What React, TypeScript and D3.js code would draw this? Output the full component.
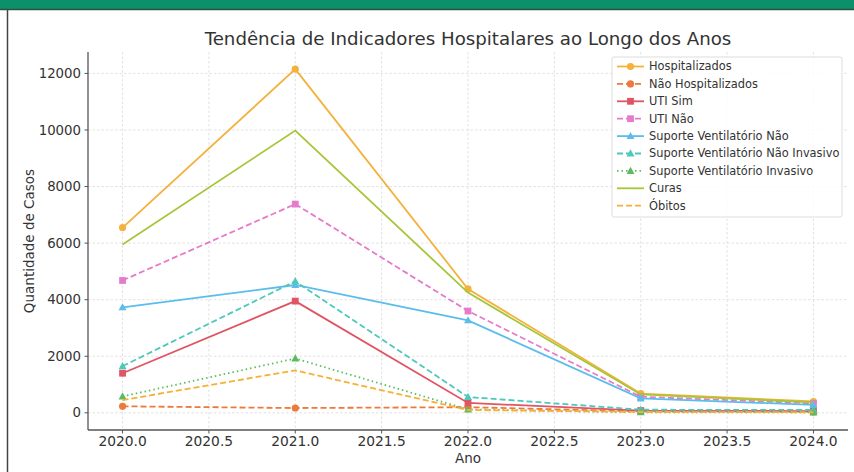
import React from 'react'
import * as d3 from 'd3'

// dados
const years = [2020, 2021, 2022, 2023, 2024]
const hospitalizados = [6550, 12150, 4380, 680, 400]
const naoHospitalizados = [230, 170, 200, 50, 30]
const utiSim = [1400, 3950, 350, 80, 60]
const utiNao = [4680, 7380, 3600, 570, 330]
const svNao = [3730, 4520, 3270, 510, 280]
const svNaoInvasivo = [1650, 4650, 560, 110, 100]
const svInvasivo = [580, 1920, 120, 20, 15]
const curas = [5950, 9980, 4250, 650, 370]
const obitos = [450, 1500, 100, 30, 20]

const xTicks = [2020, 2020.5, 2021, 2021.5, 2022, 2022.5, 2023, 2023.5, 2024]
const yTicks = [0, 2000, 4000, 6000, 8000, 10000, 12000]

const series = [
  { name: 'Hospitalizados', values: hospitalizados, color: '#f4b13b', dash: '', marker: 'o' },
  { name: 'Não Hospitalizados', values: naoHospitalizados, color: '#ec7a3c', dash: '6,3', marker: 'o' },
  { name: 'UTI Sim', values: utiSim, color: '#e05563', dash: '', marker: 's' },
  { name: 'UTI Não', values: utiNao, color: '#e67acb', dash: '6,3', marker: 's' },
  { name: 'Suporte Ventilatório Não', values: svNao, color: '#5bbdec', dash: '', marker: '^' },
  { name: 'Suporte Ventilatório Não Invasivo', values: svNaoInvasivo, color: '#4ec8bb', dash: '6,3', marker: '^' },
  { name: 'Suporte Ventilatório Invasivo', values: svInvasivo, color: '#5dbb5f', dash: '1.5,3', marker: '^' },
  { name: 'Curas', values: curas, color: '#a6c63a', dash: '', marker: '' },
  { name: 'Óbitos', values: obitos, color: '#f7b035', dash: '6,3', marker: '' }
]

const Marker = ({ type, x, y, color }) => {
  if (type === 'o') return <circle cx={x} cy={y} r={3.6} fill={color} />
  if (type === 's') return <rect x={x - 3.4} y={y - 3.4} width={6.8} height={6.8} fill={color} />
  if (type === '^')
    return <path d={`M${x},${y - 4.2}L${x + 4},${y + 3}L${x - 4},${y + 3}Z`} fill={color} />
  return null
}

const App = () => {
  const W = 854
  const H = 472
  const left = 88
  const right = 848
  const top = 52
  const bottom = 430
  const font = 'DejaVu Sans, sans-serif'

  const x = d3.scaleLinear().domain([2019.8, 2024.2]).range([left, right])
  const y = d3.scaleLinear().domain([-607, 12757]).range([bottom, top])

  const line = d3
    .line<number>()
    .x((d, i) => x(years[i]))
    .y((d) => y(d))

  const legX = 612
  const legY = 57
  const rowH = 17.4

  return (
    <div style={{ position: 'fixed', left: 0, top: 0 }}>
      <svg width={W} height={H} style={{ display: 'block', background: '#fff' }}>
        {/* moldura */}
        <rect x={0} y={0} width={W} height={9} fill="#0b906a" />
        <line x1={0} y1={9.5} x2={W} y2={9.5} stroke="#2f4f45" strokeWidth={1.5} />
        <line x1={7.5} y1={10} x2={7.5} y2={H} stroke="#444" strokeWidth={1.5} />

        {/* grade */}
        <g stroke="#dadada" strokeWidth={0.8} strokeDasharray="2.5,2">
          {xTicks.map((t) => (
            <line key={'gx' + t} x1={x(t)} x2={x(t)} y1={top} y2={bottom} />
          ))}
          {yTicks.map((t) => (
            <line key={'gy' + t} x1={left} x2={right} y1={y(t)} y2={y(t)} />
          ))}
        </g>

        {/* séries */}
        {series.map((s) => (
          <g key={s.name}>
            <path
              d={line(s.values)}
              fill="none"
              stroke={s.color}
              strokeWidth={1.8}
              strokeDasharray={s.dash}
            />
            {s.values.map((v, i) => (
              <Marker key={i} type={s.marker} x={x(years[i])} y={y(v)} color={s.color} />
            ))}
          </g>
        ))}

        {/* eixos */}
        <line x1={left} y1={top} x2={left} y2={bottom} stroke="#555" strokeWidth={1.3} />
        <line x1={left} y1={bottom} x2={right} y2={bottom} stroke="#555" strokeWidth={1.3} />
        {yTicks.map((t) => (
          <g key={'ty' + t}>
            <line x1={left - 3.5} x2={left} y1={y(t)} y2={y(t)} stroke="#555" />
            <text
              x={left - 7}
              y={y(t)}
              dy="0.35em"
              textAnchor="end"
              fontSize={13.3}
              fontFamily={font}
              fill="#333"
            >
              {t}
            </text>
          </g>
        ))}
        {xTicks.map((t) => (
          <g key={'tx' + t}>
            <line x1={x(t)} x2={x(t)} y1={bottom} y2={bottom + 3.5} stroke="#555" />
            <text
              x={x(t)}
              y={bottom + 16}
              textAnchor="middle"
              fontSize={13.8}
              fontFamily={font}
              fill="#333"
            >
              {t.toFixed(1)}
            </text>
          </g>
        ))}

        <text x={(left + right) / 2} y={463} textAnchor="middle" fontSize={13.5} fontFamily={font} fill="#333">
          Ano
        </text>
        <text
          transform={`translate(34,${(top + bottom) / 2}) rotate(-90)`}
          textAnchor="middle"
          fontSize={13.5}
          fontFamily={font}
          fill="#333"
        >
          Quantidade de Casos
        </text>
        <text
          x={(left + right) / 2}
          y={45}
          textAnchor="middle"
          fontSize={18.2}
          fontFamily={font}
          fill="#333"
        >
          Tendência de Indicadores Hospitalares ao Longo dos Anos
        </text>

        {/* legenda */}
        <rect
          x={legX}
          y={legY}
          width={230}
          height={160}
          rx={2}
          fill="#fff"
          fillOpacity={0.85}
          stroke="#ddd"
        />
        {series.map((s, i) => {
          const cy = legY + 9.5 + i * rowH
          return (
            <g key={'l' + s.name}>
              <line
                x1={legX + 5}
                x2={legX + 32}
                y1={cy}
                y2={cy}
                stroke={s.color}
                strokeWidth={1.8}
                strokeDasharray={s.dash}
              />
              <Marker type={s.marker} x={legX + 18.5} y={cy} color={s.color} />
              <text
                x={legX + 37}
                y={cy}
                dy="0.35em"
                fontSize={11.4}
                fontFamily={font}
                fill="#333"
              >
                {s.name}
              </text>
            </g>
          )
        })}
      </svg>
    </div>
  )
}

export default App
